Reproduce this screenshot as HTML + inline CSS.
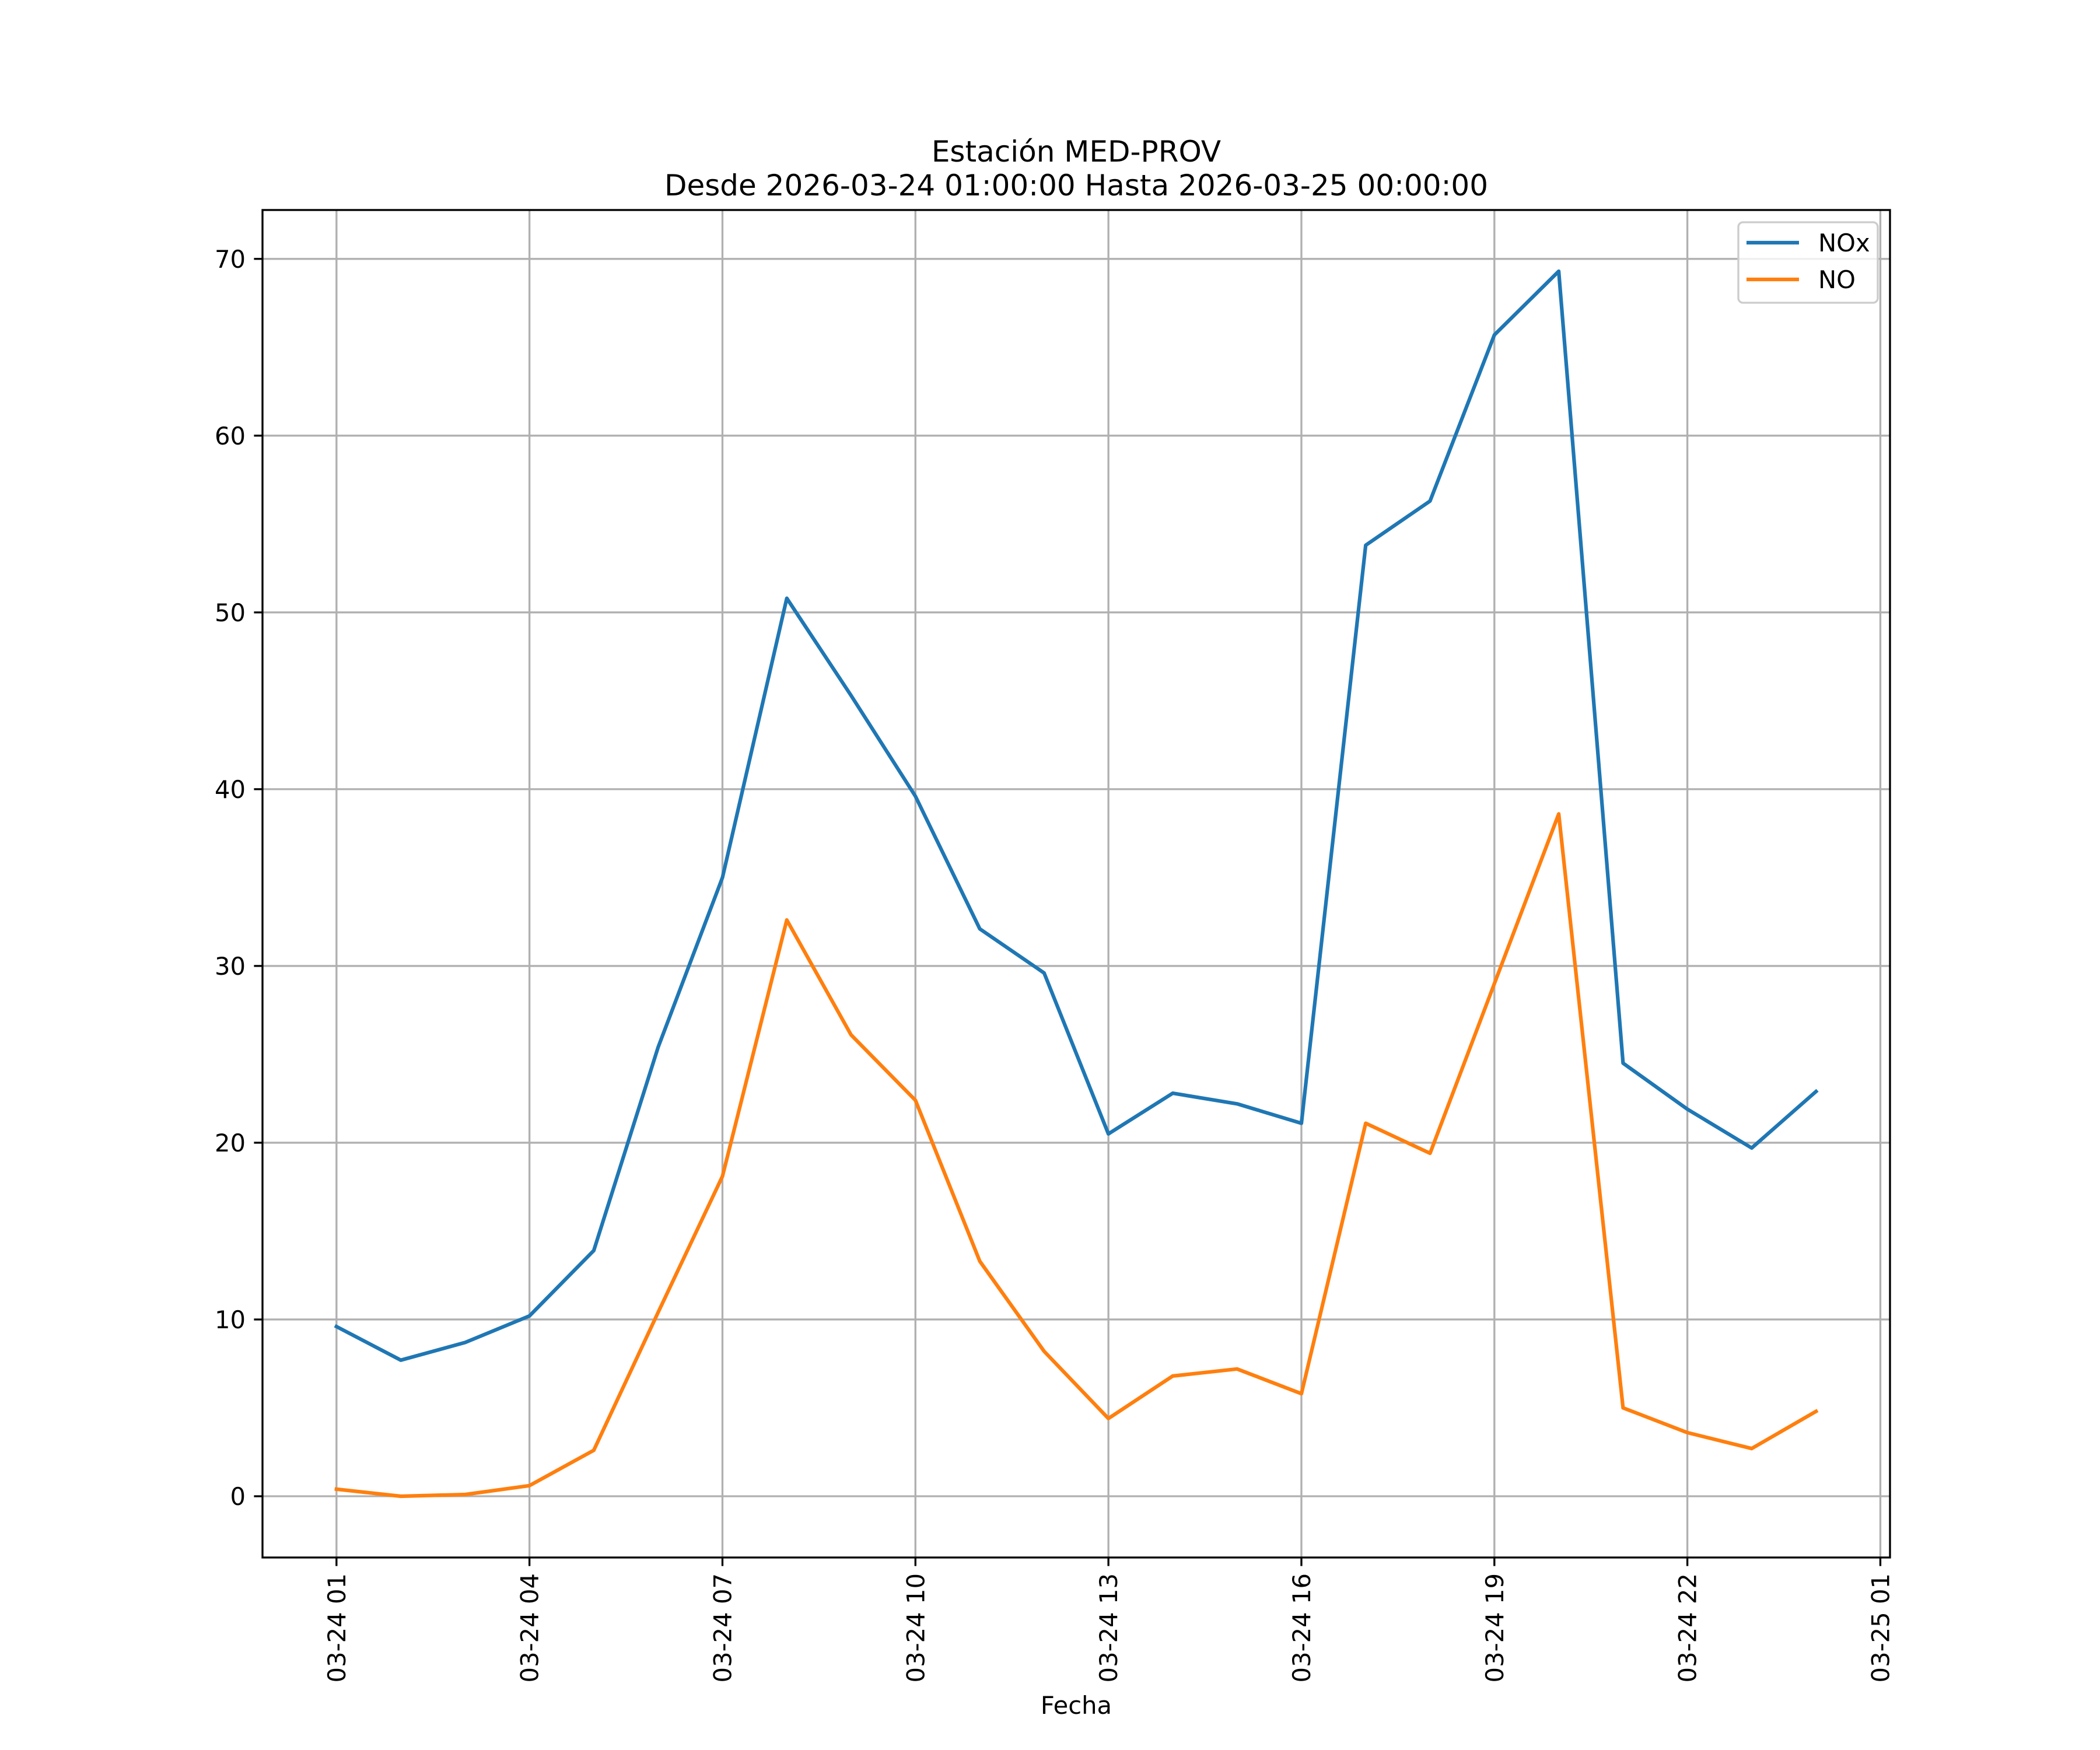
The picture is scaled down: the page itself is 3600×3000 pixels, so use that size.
<!DOCTYPE html>
<html><head><meta charset="utf-8"><style>html,body{margin:0;padding:0;background:#fff}svg{display:block}text{font-family:"DejaVu Sans","Liberation Sans",sans-serif}</style></head>
<body>
<svg id="chart" xmlns="http://www.w3.org/2000/svg" width="3600" height="3000" viewBox="0 0 3600 3000">
<rect width="3600" height="3000" fill="#fff"/>
<g id="grid"></g>
<g id="series"></g>
<rect x="450" y="360" width="2790" height="2310" fill="none" stroke="#000" stroke-width="3.33"/>
<g id="ticks"></g>
<text x="1845" y="277" font-size="50" text-anchor="middle">Estación MED-PROV</text>
<text x="1845" y="335" font-size="50" text-anchor="middle">Desde 2026-03-24 01:00:00 Hasta 2026-03-25 00:00:00</text>
<text x="1845" y="2938" font-size="41.7" text-anchor="middle">Fecha</text>
<g>
<rect x="2980" y="381" width="239" height="138" rx="8" fill="#fff" fill-opacity="0.8" stroke="#cccccc" stroke-width="3.33"/>
<line x1="2994" y1="416" x2="3084" y2="416" stroke="#1f77b4" stroke-width="6.25"/>
<text x="3117" y="431" font-size="41.7">NOx</text>
<line x1="2994" y1="479" x2="3084" y2="479" stroke="#ff7f0e" stroke-width="6.25"/>
<text x="3117" y="494" font-size="41.7">NO</text>
</g>
</svg>
<script>
const hours = [0,1,2,3,4,5,6,7,8,9,10,11,12,13,14,15,16,17,18,19,20,21,22,23];
const noxValues = [9.6,7.7,8.7,10.2,13.9,25.4,35.0,50.8,45.3,39.6,32.1,29.6,20.5,22.8,22.2,21.1,53.8,56.3,65.7,69.3,24.5,21.9,19.7,22.9];
const noValues = [0.4,0.0,0.1,0.6,2.6,10.4,18.1,32.6,26.1,22.4,13.3,8.2,4.4,6.8,7.2,5.8,21.1,19.4,29.0,38.6,5.0,3.6,2.7,4.8];
const xTickHours = [0,3,6,9,12,15,18,21,24];
const xTickLabels = ["03-24 01","03-24 04","03-24 07","03-24 10","03-24 13","03-24 16","03-24 19","03-24 22","03-25 01"];
const yTicks = [0,10,20,30,40,50,60,70];

const NS="http://www.w3.org/2000/svg";
const L=450,R=3240,T=360,B=2670;
const xmin0=Math.min(...hours),xmax0=Math.max(...hours);
const all=noxValues.concat(noValues);
const ymin0=Math.min(...all),ymax0=Math.max(...all);
const xm=(xmax0-xmin0)*0.05, ym=(ymax0-ymin0)*0.05;
const x0=xmin0-xm,x1=xmax0+xm,y0=ymin0-ym,y1=ymax0+ym;
const sx=v=>L+(v-x0)/(x1-x0)*(R-L);
const sy=v=>B-(v-y0)/(y1-y0)*(B-T);
function mk(tag,attrs,parent){const e=document.createElementNS(NS,tag);for(const k in attrs)e.setAttribute(k,attrs[k]);parent.appendChild(e);return e;}
const grid=document.getElementById('grid'),ticks=document.getElementById('ticks'),series=document.getElementById('series');
xTickHours.forEach((h,i)=>{
  const x=sx(h);
  if(x<=R){
  const g=mk('line',{x1:x,x2:x,y1:T,y2:B,stroke:'#b0b0b0','stroke-width':3.33},grid);
  
  }
  const t=mk('line',{x1:x,x2:x,y1:B,y2:B+14.6,stroke:'#000','stroke-width':3.33},ticks);
  
  
  const tx=mk('text',{x:0,y:0,'font-size':41.7,'text-anchor':'end',transform:`translate(${x+15},${B+27}) rotate(-90)`},ticks);
  tx.textContent=xTickLabels[i];
  
  
});
yTicks.forEach(v=>{
  const y=sy(v);
  const g=mk('line',{x1:L,x2:R,y1:y,y2:y,stroke:'#b0b0b0','stroke-width':3.33},grid);
  
  
  const t=mk('line',{x1:L-14.6,x2:L,y1:y,y2:y,stroke:'#000','stroke-width':3.33},ticks);
  
  
  const tx=mk('text',{x:L-29,y:y+15,'font-size':41.7,'text-anchor':'end'},ticks);
  tx.textContent=String(v);
  
  
});
function line(vals,color,name){
  const pts=hours.map((h,i)=>sx(h).toFixed(1)+','+sy(vals[i]).toFixed(1)).join(' ');
  const p=mk('polyline',{points:pts,fill:'none',stroke:color,'stroke-width':6.25,'stroke-linejoin':'round','stroke-linecap':'square'},series);
  
  
}
line(noxValues,'#1f77b4','nox-line');
line(noValues,'#ff7f0e','no-line');
</script>
</body></html>
